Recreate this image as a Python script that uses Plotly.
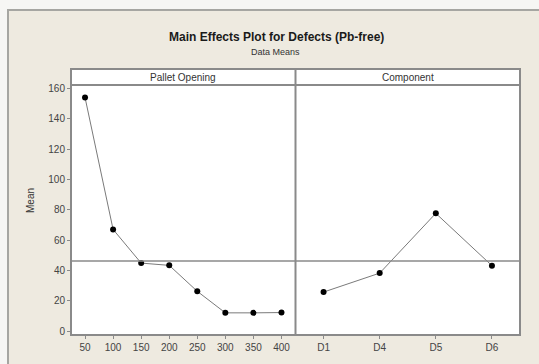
import plotly.graph_objects as go

# ---- data ----
pallet_levels = ["50", "100", "150", "200", "250", "300", "350", "400"]
pallet_means = [154, 67, 44.8, 43.3, 26.2, 12, 12, 12.2]
component_levels = ["D1", "D4", "D5", "D6"]
component_means = [25.7, 38.2, 77.6, 43.1]
overall_mean = 46.2
y_ticks = [0, 20, 40, 60, 80, 100, 120, 140, 160]

W, H = 539, 364
L, R, T, B = 71, 19, 69, 29
PW, PH = W - L - R, H - T - B

def px(x):
    return (x - L) / PW

def py(y):
    return (H - B - y) / PH

FONT = "Liberation Sans"
GRID = "#8a8a8a"
BEIGE = "#EEEAE0"

fig = go.Figure()
line_style = dict(color="#7a7a7a", width=1)
marker_style = dict(color="black", size=6)
fig.add_trace(go.Scatter(x=pallet_levels, y=pallet_means, mode="lines+markers",
                         line=line_style, marker=marker_style, xaxis="x", yaxis="y",
                         showlegend=False))
fig.add_trace(go.Scatter(x=component_levels, y=component_means, mode="lines+markers",
                         line=line_style, marker=marker_style, xaxis="x2", yaxis="y",
                         showlegend=False))

ydom_top = py(85)
tickfont = dict(family=FONT, size=10, color="#444444")
fig.update_layout(
    width=W, height=H,
    margin=dict(l=L, r=R, t=T, b=B, pad=0),
    paper_bgcolor="#F6F6F4",
    plot_bgcolor="white",
    xaxis=dict(domain=[0, 0.5], type="category", categoryorder="array",
               categoryarray=pallet_levels, range=[-0.5, len(pallet_levels) - 0.5],
               showgrid=False, zeroline=False, ticks="outside", ticklen=3,
               tickcolor=GRID, tickfont=tickfont, anchor="y", showline=False),
    xaxis2=dict(domain=[0.5, 1], type="category", categoryorder="array",
                categoryarray=component_levels, range=[-0.5, len(component_levels) - 0.5],
                showgrid=False, zeroline=False, ticks="outside", ticklen=3,
                tickcolor=GRID, tickfont=tickfont, anchor="y", showline=False),
    yaxis=dict(domain=[0, ydom_top], range=[-2.6, 162.2], tickvals=y_ticks,
               showgrid=False, zeroline=False, ticks="outside", ticklen=3,
               tickcolor=GRID, tickfont=tickfont, anchor="x", showline=False),
)

shapes = []
# outer beige frame
shapes.append(dict(type="rect", xref="paper", yref="paper", layer="below",
                   x0=px(8), x1=px(560), y0=py(380), y1=py(10),
                   fillcolor=BEIGE, line=dict(color="#a6a6a2", width=2)))
# white plot panel incl. strip
shapes.append(dict(type="rect", xref="paper", yref="paper", layer="below",
                   x0=0, x1=1, y0=0, y1=1, fillcolor="white", line=dict(width=0)))
# mean reference line
shapes.append(dict(type="line", xref="paper", yref="y", x0=0, x1=1,
                   y0=overall_mean, y1=overall_mean, line=dict(color=GRID, width=1.5)))
# borders
shapes.append(dict(type="rect", xref="paper", yref="paper", x0=0, x1=1, y0=0, y1=1,
                   line=dict(color=GRID, width=2)))
shapes.append(dict(type="line", xref="paper", yref="paper", x0=0, x1=1,
                   y0=ydom_top, y1=ydom_top, line=dict(color=GRID, width=2)))
shapes.append(dict(type="line", xref="paper", yref="paper", x0=0.5, x1=0.5,
                   y0=0, y1=1, line=dict(color=GRID, width=2)))
fig.update_layout(shapes=shapes)

ann = []
ann.append(dict(text="<b>Main Effects Plot for Defects (Pb-free)</b>", xref="paper", yref="paper",
                x=px(276), y=py(37), showarrow=False, xanchor="center", yanchor="middle",
                font=dict(family=FONT, size=12, color="#1a1a1a")))
ann.append(dict(text="Data Means", xref="paper", yref="paper",
                x=px(275), y=py(52), showarrow=False, xanchor="center", yanchor="middle",
                font=dict(family=FONT, size=9, color="#333333")))
ann.append(dict(text="Pallet Opening", xref="paper", yref="paper",
                x=0.25, y=py(77), showarrow=False, xanchor="center", yanchor="middle",
                font=dict(family=FONT, size=10, color="#333333")))
ann.append(dict(text="Component", xref="paper", yref="paper",
                x=0.75, y=py(77), showarrow=False, xanchor="center", yanchor="middle",
                font=dict(family=FONT, size=10, color="#333333")))
ann.append(dict(text="Mean", xref="paper", yref="paper", textangle=-90,
                x=px(30), y=py(201), showarrow=False, xanchor="center", yanchor="middle",
                font=dict(family=FONT, size=10, color="#333333")))
fig.update_layout(annotations=ann)

fig.write_html("out.html", config={"displayModeBar": False},
               post_script="document.body.style.margin='0';document.body.style.overflow='hidden';")
